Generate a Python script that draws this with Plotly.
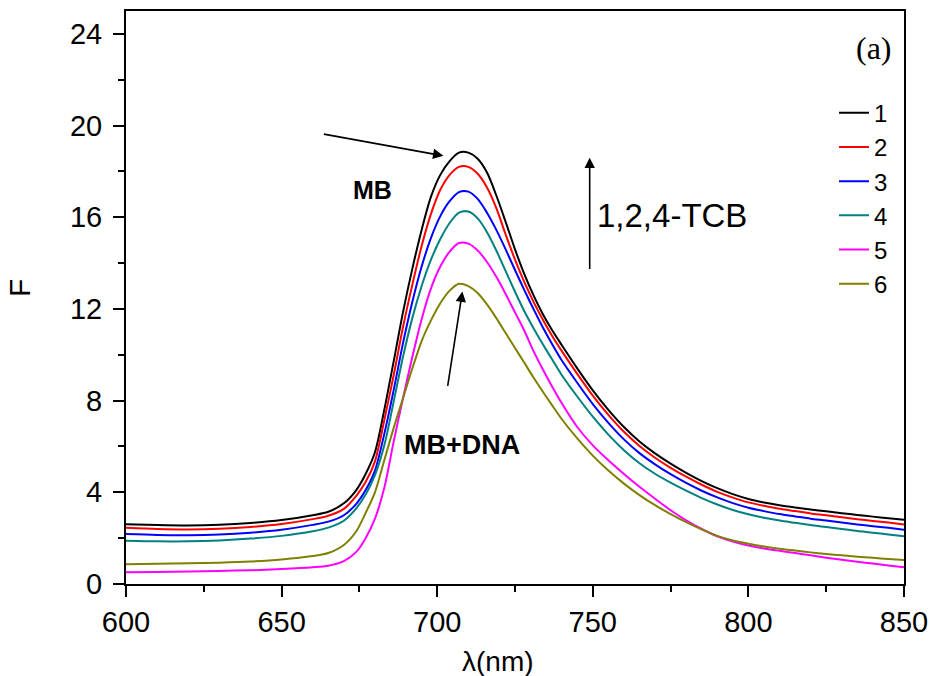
import plotly.graph_objects as go

# Emission wavelength grid (nm)
wavelength = [600, 610, 620, 630, 640, 650, 660, 665, 670, 674, 677, 680, 683, 686, 689,
              692, 695, 698, 701, 704, 707, 710, 713, 716, 719, 722, 725, 728, 731, 734,
              737, 740, 745, 750, 755, 760, 765, 770, 775, 780, 785, 790, 795, 800, 805,
              810, 815, 820, 825, 830, 835, 840, 845, 850]

# Fluorescence intensity of each spectrum
f1 = [2.61, 2.57, 2.55, 2.58, 2.66, 2.79, 3.00, 3.15, 3.52, 4.10, 4.80, 5.75, 7.60, 9.70, 11.85,
      13.75, 15.45, 16.90, 17.85, 18.45, 18.82, 18.82, 18.55, 17.95, 16.95, 15.80, 14.60, 13.52, 12.58, 11.76,
      11.06, 10.43, 9.41, 8.45, 7.60, 6.85, 6.22, 5.70, 5.25, 4.85, 4.49, 4.18, 3.92, 3.71, 3.56,
      3.44, 3.34, 3.25, 3.17, 3.09, 3.01, 2.94, 2.87, 2.80]
f2 = [2.45, 2.40, 2.38, 2.41, 2.49, 2.62, 2.83, 2.98, 3.28, 3.85, 4.45, 5.35, 7.15, 9.10, 11.20,
      13.05, 14.75, 16.15, 17.20, 17.85, 18.20, 18.20, 17.90, 17.30, 16.40, 15.25, 14.15, 13.17, 12.30, 11.52,
      10.81, 10.17, 9.17, 8.22, 7.38, 6.64, 6.02, 5.51, 5.07, 4.68, 4.33, 4.02, 3.77, 3.56, 3.41,
      3.28, 3.18, 3.08, 3.00, 2.91, 2.83, 2.75, 2.68, 2.60]
f3 = [2.18, 2.14, 2.13, 2.16, 2.24, 2.37, 2.58, 2.72, 3.00, 3.50, 4.10, 4.95, 6.55, 8.45, 10.50,
      12.30, 13.85, 15.10, 16.05, 16.70, 17.10, 17.12, 16.80, 16.20, 15.45, 14.60, 13.70, 12.82, 11.98, 11.18,
      10.45, 9.76, 8.78, 7.85, 7.03, 6.31, 5.71, 5.22, 4.79, 4.41, 4.07, 3.78, 3.53, 3.33, 3.18,
      3.05, 2.95, 2.85, 2.77, 2.68, 2.60, 2.52, 2.45, 2.37]
f4 = [1.89, 1.86, 1.86, 1.90, 1.98, 2.10, 2.30, 2.46, 2.76, 3.30, 3.90, 4.75, 6.05, 7.95, 9.90,
      11.60, 13.00, 14.15, 15.05, 15.75, 16.20, 16.25, 15.95, 15.35, 14.55, 13.65, 12.75, 11.90, 11.15, 10.45,
      9.78, 9.12, 8.18, 7.30, 6.52, 5.84, 5.27, 4.81, 4.42, 4.07, 3.75, 3.47, 3.23, 3.04, 2.89,
      2.77, 2.67, 2.57, 2.49, 2.40, 2.31, 2.24, 2.16, 2.08]
f5 = [0.51, 0.52, 0.54, 0.57, 0.60, 0.65, 0.73, 0.80, 1.00, 1.40, 2.00, 2.85, 4.20, 6.20, 8.10,
      9.90, 11.55, 12.90, 13.85, 14.50, 14.88, 14.85, 14.55, 14.05, 13.40, 12.65, 11.85, 11.05, 10.15, 9.35,
      8.60, 7.90, 6.85, 6.05, 5.40, 4.80, 4.24, 3.72, 3.22, 2.78, 2.40, 2.08, 1.85, 1.68, 1.55,
      1.45, 1.35, 1.25, 1.15, 1.06, 0.97, 0.89, 0.81, 0.73]
f6 = [0.86, 0.88, 0.90, 0.93, 0.98, 1.07, 1.22, 1.35, 1.70, 2.30, 3.10, 4.00, 5.40, 6.80, 8.10,
      9.40, 10.60, 11.50, 12.25, 12.80, 13.10, 13.00, 12.70, 12.20, 11.60, 10.95, 10.30, 9.65, 9.00, 8.38,
      7.78, 7.20, 6.35, 5.60, 4.95, 4.38, 3.88, 3.44, 3.05, 2.70, 2.38, 2.10, 1.90, 1.76, 1.64,
      1.54, 1.46, 1.38, 1.31, 1.25, 1.19, 1.14, 1.09, 1.05]

series = [f1, f2, f3, f4, f5, f6]
names = ["1", "2", "3", "4", "5", "6"]
colors = ["#000000", "#FF0000", "#0000FF", "#008080", "#FF00FF", "#808000"]

SANS = "Arial, Liberation Sans, sans-serif"
SERIF = "Times New Roman, Liberation Serif, serif"

fig = go.Figure()
for name, ys, col in zip(names, series, colors):
    fig.add_trace(go.Scatter(
        x=wavelength, y=ys, name=name, mode="lines",
        line=dict(color=col, width=2, shape="spline", smoothing=0.8),
        legendgroup=name,
    ))

axis_common = dict(
    showline=True, linecolor="black", linewidth=2, mirror=True,
    ticks="outside", ticklen=11, tickwidth=2, tickcolor="black",
    showgrid=False, zeroline=False, automargin=False,
    tickfont=dict(family=SANS, size=29, color="black"),
)

fig.update_xaxes(
    range=[600, 850], dtick=50, tick0=600,
    minor=dict(dtick=25, ticks="outside", ticklen=6, tickwidth=2, tickcolor="black"),
    **axis_common,
)
fig.update_yaxes(
    range=[0, 25], dtick=4, tick0=0, ticklabelstandoff=5,
    minor=dict(dtick=2, ticks="outside", ticklen=6, tickwidth=2, tickcolor="black"),
    **axis_common,
)

# Axis titles
fig.add_annotation(x=0.478, y=-0.136, xref="paper", yref="paper", xanchor="center", yanchor="middle",
                   text="λ(nm)", showarrow=False, font=dict(family=SANS, size=28, color="black"))
fig.add_annotation(x=-0.136, y=0.517, xref="paper", yref="paper", xanchor="center", yanchor="middle",
                   text="F", showarrow=False, textangle=-90,
                   font=dict(family=SANS, size=30, color="black"))

# Arrows: (head x, head y, tail x, tail y)
arrows = [
    (702.0, 18.68, 663.1, 19.64),
    (708.1, 12.76, 703.3, 8.58),
    (749.0, 18.60, 749.0, 13.68),
]
for hx, hy, tx, ty in arrows:
    fig.add_annotation(x=hx, y=hy, ax=tx, ay=ty, xref="x", yref="y", axref="x", ayref="y",
                       text="", showarrow=True, arrowhead=2, arrowsize=1.3, arrowwidth=1.6,
                       arrowcolor="black")

labels = [
    ("MB", 679.3, 17.2, 25),
    ("MB+DNA", 707.9, 6.08, 27),
]
for txt, lx, ly, sz in labels:
    fig.add_annotation(x=lx, y=ly, xref="x", yref="y", text=f"<b>{txt}</b>", showarrow=False,
                       font=dict(family=SANS, size=sz, color="black"))

fig.add_annotation(x=775.5, y=16.09, xref="x", yref="y", text="1,2,4-TCB", showarrow=False,
                   font=dict(family=SANS, size=33, color="black"))
fig.add_annotation(x=840.3, y=23.4, xref="x", yref="y", text="(a)", showarrow=False,
                   font=dict(family=SERIF, size=32, color="black"))

fig.update_layout(
    width=932, height=676,
    margin=dict(l=126, r=28, t=11, b=92, autoexpand=False),
    paper_bgcolor="white", plot_bgcolor="white",
    showlegend=True,
    legend=dict(
        x=0.91, y=0.861, xanchor="left", yanchor="top",
        bgcolor="rgba(0,0,0,0)", borderwidth=0,
        font=dict(family=SANS, size=24, color="black"),
        tracegroupgap=0, itemwidth=30,
    ),
)

fig.write_html("out.html")
